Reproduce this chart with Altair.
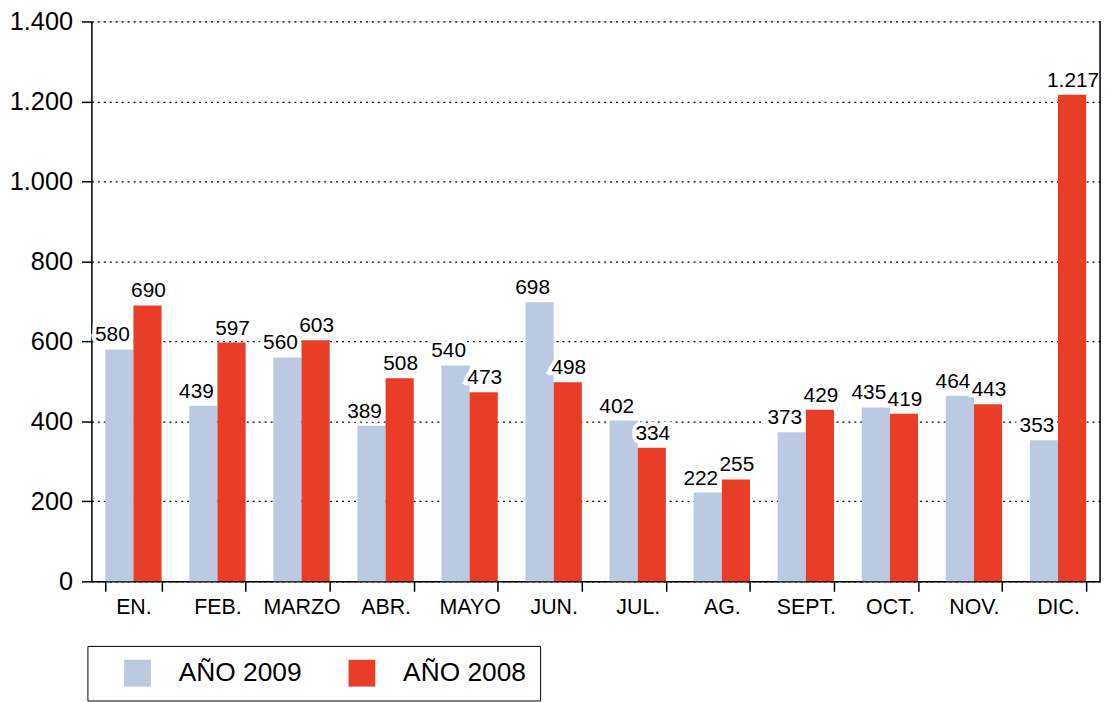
import altair as alt
import pandas as pd

months = ["EN.", "FEB.", "MARZO", "ABR.", "MAYO", "JUN.", "JUL.", "AG.", "SEPT.", "OCT.", "NOV.", "DIC."]
v2009 = [580, 439, 560, 389, 540, 698, 402, 222, 373, 435, 464, 353]
v2008 = [690, 597, 603, 508, 473, 498, 334, 255, 429, 419, 443, 1217]
series = ["AÑO 2009", "AÑO 2008"]
colors = ["#BBC9E3", "#E83D26"]
y_ticks = [0, 200, 400, 600, 800, 1000, 1200, 1400]

rows = []
for m, a, b in zip(months, v2009, v2008):
    rows.append({"mes": m, "serie": series[0], "valor": a})
    rows.append({"mes": m, "serie": series[1], "valor": b})
df = pd.DataFrame(rows)
df["etiqueta"] = df["valor"].map(lambda v: f"{v:,}".replace(",", "."))

FONT = "Liberation Sans"
W, H = 1016, 564

x = alt.X(
    "mes:N", sort=months, title=None,
    scale=alt.Scale(paddingInner=0.33, paddingOuter=0.165),
    axis=alt.Axis(labelAngle=0, labelFontSize=21.5, labelColor="black", labelFont=FONT,
                  tickBand="extent", tickSize=10, tickColor="black", tickWidth=1.5,
                  domainColor="black", domainWidth=1.5, labelPadding=5, grid=False),
)
xo = alt.XOffset("serie:N", sort=series, scale=alt.Scale(domain=series, paddingInner=0, paddingOuter=0))
y = alt.Y(
    "valor:Q", title=None,
    scale=alt.Scale(domain=[0, 1400], nice=False),
    axis=alt.Axis(values=y_ticks,
                  labelExpr="replace(format(datum.value, ','), ',', '.')",
                  labelFontSize=25.5, labelColor="black", labelFont=FONT,
                  tickSize=10, tickColor="black", tickWidth=1.5, labelPadding=9,
                  domainColor="black", domainWidth=1.5,
                  grid=True, gridDash=[2, 4], gridColor="black", gridWidth=1.2),
)

color = alt.Color(
    "serie:N", sort=series,
    scale=alt.Scale(domain=series, range=colors),
    legend=alt.Legend(orient="none", legendX=-4, legendY=629, direction="horizontal",
                      title=None, symbolType="square", symbolSize=729, symbolStrokeWidth=0,
                      labelFontSize=26.5, labelFont=FONT, labelColor="black",
                      labelExpr="datum.label == 'AÑO 2008' ? datum.label + '\u00a0\u00a0\u00a0' : datum.label",
                      strokeColor="black", fillColor="white", padding=14,
                      symbolOffset=23, labelOffset=28, columnPadding=24),
)

bars = alt.Chart(df).mark_bar().encode(x=x, xOffset=xo, y=y, color=color)

layers = [bars]
halos = []
texts = []
for s, d in zip(series, [-7, 1]):
    base = alt.Chart(df).transform_filter(alt.datum.serie == s)
    halos.append(base.mark_text(dx=d, dy=-8, baseline="alphabetic", fontSize=21, font=FONT,
                                fill="white", stroke="white", strokeWidth=8,
                                strokeJoin="miter").encode(x=x, xOffset=xo, y=y, text="etiqueta:N"))
    texts.append(base.mark_text(dx=d, dy=-8, baseline="alphabetic", fontSize=21, font=FONT,
                                fill="black").encode(x=x, xOffset=xo, y=y, text="etiqueta:N"))

border = alt.Chart(pd.DataFrame({"a": [0]})).mark_rule(color="black", strokeWidth=1.5).encode(
    x=alt.value(W), y=alt.value(0), y2=alt.value(H)
)

chart = alt.layer(*(layers + halos + texts + [border])).properties(
    width=W, height=H,
    autosize=alt.AutoSizeParams(type="none"),
    padding={"left": 84, "top": 11, "right": 5, "bottom": 125},
).configure_view(strokeWidth=0).configure(background="white")

chart.save("out.html", embed_options={"renderer": "svg", "actions": False})
